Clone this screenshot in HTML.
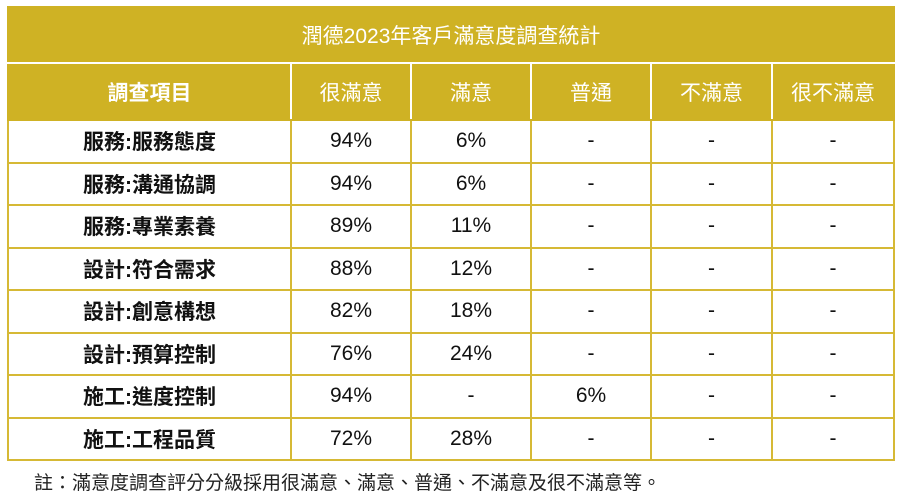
<!DOCTYPE html>
<html><head><meta charset="utf-8"><style>
body{margin:0;width:900px;height:500px;background:#fff;font-family:"Liberation Sans","Noto Sans CJK TC",sans-serif;position:relative;overflow:hidden}
table{position:absolute;left:7px;top:6px;width:886px;border-collapse:collapse;table-layout:fixed}
td,th{text-align:center;padding:0;border:2px solid #d6b935}
.title th{background:#cfb224;color:#fff;height:54px;font-size:21px;font-weight:normal;border-color:#cfb224;border-bottom:2px solid #fff}
.hdr th{background:#cfb224;color:#fff;height:55px;font-size:21px;font-weight:normal;border:2px solid #fff;border-bottom-color:#cfb224}
.hdr th:first-child{border-left-color:#cfb224;font-weight:bold}
.hdr th:last-child{border-right-color:#cfb224}
tbody td{height:40.5px;font-size:21px;color:#111}
tbody td:first-child{font-weight:bold}
.note{position:absolute;left:34px;top:468px;font-size:19px;color:#222}
</style></head><body>
<table>
<colgroup><col style="width:283px"><col style="width:120px"><col style="width:120px"><col style="width:120px"><col style="width:121px"><col style="width:122px"></colgroup>
<thead>
<tr class="title"><th colspan="6">潤德2023年客戶滿意度調查統計</th></tr>
<tr class="hdr"><th>調查項目</th><th>很滿意</th><th>滿意</th><th>普通</th><th>不滿意</th><th>很不滿意</th></tr>
</thead>
<tbody>
<tr><td>服務:服務態度</td><td>94%</td><td>6%</td><td>-</td><td>-</td><td>-</td></tr>
<tr><td>服務:溝通協調</td><td>94%</td><td>6%</td><td>-</td><td>-</td><td>-</td></tr>
<tr><td>服務:專業素養</td><td>89%</td><td>11%</td><td>-</td><td>-</td><td>-</td></tr>
<tr><td>設計:符合需求</td><td>88%</td><td>12%</td><td>-</td><td>-</td><td>-</td></tr>
<tr><td>設計:創意構想</td><td>82%</td><td>18%</td><td>-</td><td>-</td><td>-</td></tr>
<tr><td>設計:預算控制</td><td>76%</td><td>24%</td><td>-</td><td>-</td><td>-</td></tr>
<tr><td>施工:進度控制</td><td>94%</td><td>-</td><td>6%</td><td>-</td><td>-</td></tr>
<tr><td>施工:工程品質</td><td>72%</td><td>28%</td><td>-</td><td>-</td><td>-</td></tr>
</tbody>
</table>
<div class="note">註：滿意度調查評分分級採用很滿意、滿意、普通、不滿意及很不滿意等。</div>
</body></html>
